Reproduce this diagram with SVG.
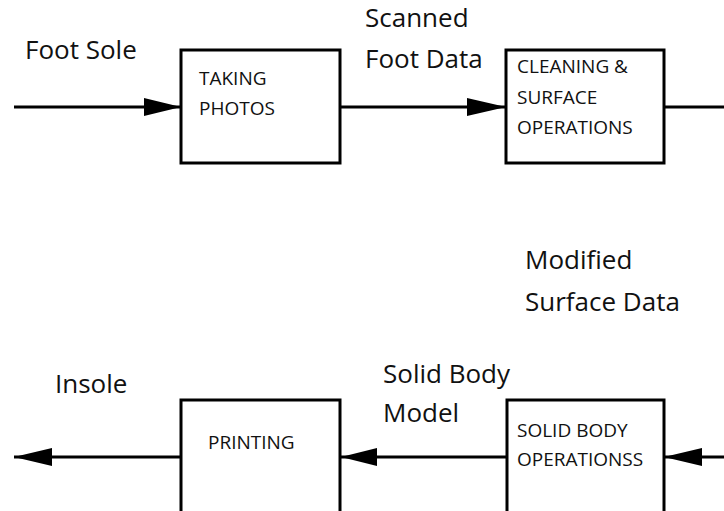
<svg xmlns="http://www.w3.org/2000/svg" width="724" height="511" viewBox="0 0 724 511">
<defs>
<style>
.box{fill:#fff;stroke:#000;stroke-width:3}
.ln{fill:none;stroke:#000;stroke-width:3}
.lbl{font-family:"Open Sans","Liberation Sans",sans-serif;font-size:26px;fill:#111}
.in{font-family:"Open Sans","Liberation Sans",sans-serif;font-size:19px;fill:#111}
.ah{fill:#000}
</style>
</defs>
<rect width="724" height="511" fill="#fff"/>
<g id="connectors">
<line class="ln" x1="14" y1="107" x2="181" y2="107"/>
<polygon class="ah" points="144,98 181,107 144,116"/>
<line class="ln" x1="340" y1="107" x2="506" y2="107"/>
<polygon class="ah" points="467,98 506,107 467,116"/>
<line class="ln" x1="664" y1="107" x2="724" y2="107"/>
<line class="ln" x1="724" y1="457" x2="664" y2="457"/>
<polygon class="ah" points="702,448 664,457 702,466"/>
<line class="ln" x1="507" y1="457" x2="340" y2="457"/>
<polygon class="ah" points="377,448 341,457 377,466"/>
<line class="ln" x1="181" y1="457" x2="14" y2="457"/>
<polygon class="ah" points="52,448 14,457 52,466"/>
</g>
<g id="labels">
<text class="lbl" x="25" y="59">Foot Sole</text>
<text class="lbl" x="365" y="27">Scanned</text>
<text class="lbl" x="365" y="68">Foot Data</text>
<text class="lbl" x="525" y="269">Modified</text>
<text class="lbl" x="525" y="311">Surface Data</text>
<text class="lbl" x="383" y="383">Solid Body</text>
<text class="lbl" x="383" y="422">Model</text>
<text class="lbl" x="55" y="393">Insole</text>
</g>
<g id="taking-photos">
<rect class="box" x="181" y="50" width="159" height="113"/>
<text class="in" x="199" y="85">TAKING</text>
<text class="in" x="199" y="115">PHOTOS</text>
</g>
<g id="cleaning">
<rect class="box" x="506" y="50" width="158" height="113"/>
<text class="in" x="517" y="73">CLEANING &amp;</text>
<text class="in" x="517" y="104">SURFACE</text>
<text class="in" x="517" y="134">OPERATIONS</text>
</g>
<g id="solid-body">
<rect class="box" x="507" y="400" width="157" height="130"/>
<text class="in" x="517" y="437">SOLID BODY</text>
<text class="in" x="517" y="466">OPERATIONSS</text>
</g>
<g id="printing">
<rect class="box" x="181" y="400" width="159" height="130"/>
<text class="in" x="208" y="449">PRINTING</text>
</g>
</svg>
